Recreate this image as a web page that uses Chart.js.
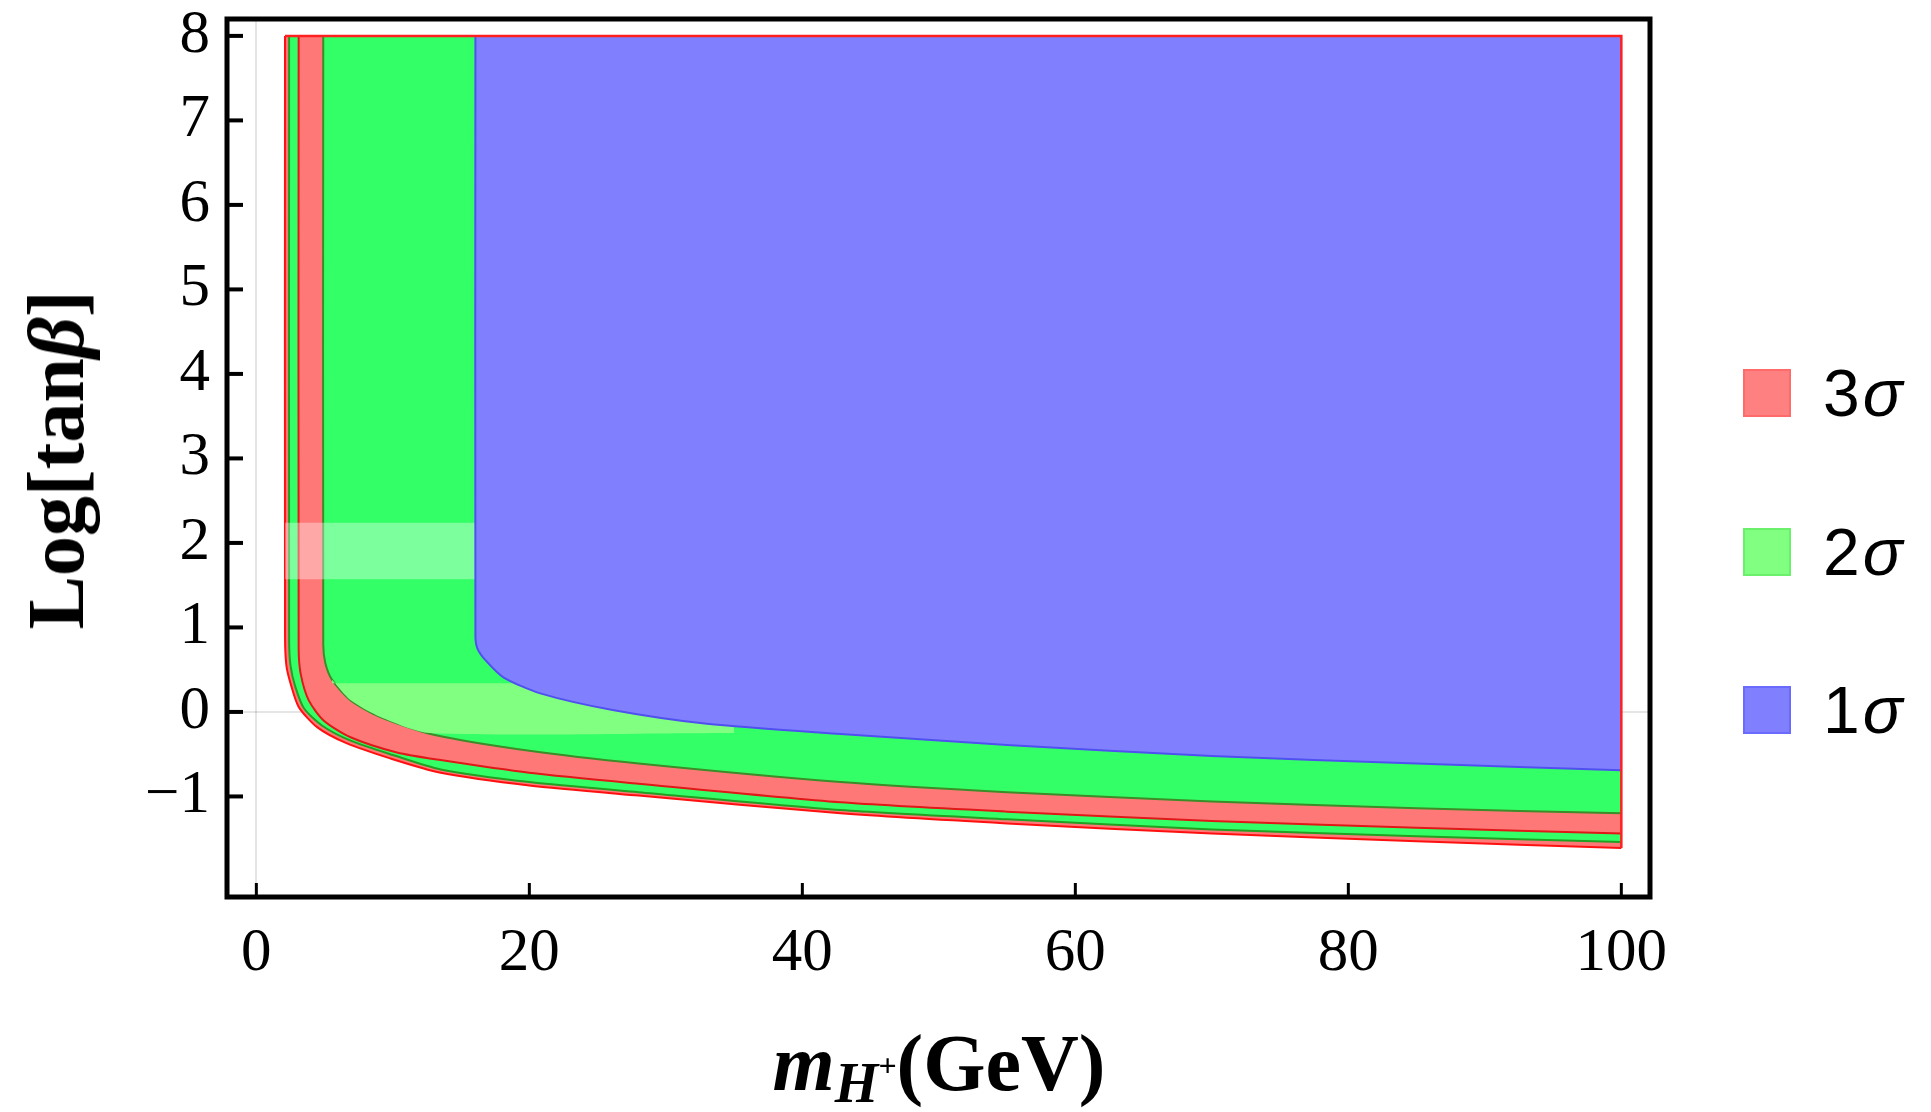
<!DOCTYPE html>
<html>
<head>
<meta charset="utf-8">
<script src="https://cdn.jsdelivr.net/npm/chart.js@4.4.1/dist/chart.umd.min.js"></script>
<style>
  html, body { margin: 0; padding: 0; background: #fff; }
  #wrap { position: relative; width: 1931px; height: 1112px; overflow: hidden; }
  #my-chart { position: absolute; left: 0; top: 0; }
  .axis-title {
    position: absolute;
    font-family: "Liberation Serif", "Times New Roman", serif;
    font-weight: bold;
    font-size: 80px;
    line-height: 1;
    white-space: nowrap;
    color: #000;
  }
  #ytitle { left: 56px; top: 460px; transform: translate(-50%, -50%) rotate(-90deg); }
  #xtitle { left: 939px; top: 1023px; transform: translateX(-50%); }
  #xtitle .sub { font-size: 56px; position: relative; top: 12px; }
  #xtitle .sup { font-size: 32px; position: relative; top: -26px; font-style: normal; }
  .legend-row {
    position: absolute;
    left: 1743px;
    height: 64px;
    display: flex;
    align-items: center;
    font-family: "Liberation Sans", Arial, sans-serif;
    font-size: 66px;
    letter-spacing: 3px;
    line-height: 1;
    color: #000;
  }
  .legend-box { width: 44px; height: 44px; border: 2px solid; margin-right: 32px; }
</style>
</head>
<body>
<div id="wrap">
  <canvas id="my-chart" width="1931" height="1112"></canvas>
  <div id="ytitle" class="axis-title">Log[tan<i>β</i>]</div>
  <div id="xtitle" class="axis-title"><i>m</i><span class="sub"><i>H</i><span class="sup">+</span></span>(GeV)</div>
</div>
<script>
// tick labels
const xTickValues = [0, 20, 40, 60, 80, 100];
const yTickValues = [-1, 0, 1, 2, 3, 4, 5, 6, 7, 8];

// region boundaries (mH+, Log[tan beta])
const sigma3OuterX = [2.1, 2.1, 2.2, 2.5, 3.1, 4.45, 6.6, 9.8, 13.5, 20, 28, 42.8, 55, 70, 85, 100];
const sigma3OuterY = [8, 0.9, 0.55, 0.34, 0.06, -0.18, -0.37, -0.55, -0.72, -0.87, -0.99, -1.2, -1.32, -1.44, -1.53, -1.61];

const sigma2ThinX = [2.4, 2.4, 2.5, 2.85, 3.5, 4.8, 6.9, 10, 13.5, 20, 28, 42.8, 55, 70, 85, 100];
const sigma2ThinY = [8, 0.85, 0.55, 0.3, 0.04, -0.16, -0.34, -0.51, -0.68, -0.83, -0.95, -1.16, -1.27, -1.39, -1.47, -1.54];

const sigma3BandX = [3.1, 3.1, 3.25, 3.83, 4.93, 6.9, 10.3, 13.5, 20, 28, 42.8, 55, 70, 85, 100];
const sigma3BandY = [8, 0.75, 0.45, 0.14, -0.1, -0.3, -0.48, -0.57, -0.72, -0.85, -1.07, -1.18, -1.29, -1.37, -1.44];

const sigma2MainX = [4.9, 4.9, 5.05, 5.55, 6.89, 9.08, 13, 20, 28, 42.8, 55, 70, 85, 100];
const sigma2MainY = [8, 0.8, 0.58, 0.38, 0.14, -0.06, -0.27, -0.46, -0.61, -0.83, -0.95, -1.06, -1.14, -1.2];

const sigma1X = [16.05, 16.05, 16.2, 16.8, 18.1, 20.8, 26.2, 33, 42.8, 55, 70, 85, 100];
const sigma1Y = [8, 0.9, 0.75, 0.61, 0.41, 0.22, 0.02, -0.14, -0.26, -0.39, -0.52, -0.61, -0.69];

// top and right edge of the allowed region
const edgeX = [2.1, 100, 100];
const edgeY = [8, 8, -1.61];

// light rendering bands seen in the picture
const band1X = [2.1, 16.05];
const band1Y = [2.24, 2.24];
const band1Bottom = 1.57;
const band2TopX = [5.55, 35];
const band2TopY = [0.34, 0.34];
const band2BottomX = [5.55, 6.89, 9.08, 12.7, 35];
const band2BottomY = [0.38, 0.14, -0.06, -0.25, -0.25];

// legend
const legendLevels = [3, 2, 1];
const legendFill = ["#ff8080", "#80ff80", "#8080ff"];
const legendBorder = ["#ff6a6a", "#6af06a", "#6a6aff"];

function toPoints(xs, ys) {
  return xs.map((x, i) => ({ x: x, y: ys[i] }));
}

function region(xs, ys, fillColor, lineColor, order) {
  return {
    data: toPoints(xs, ys),
    fill: { value: 8 },
    backgroundColor: fillColor,
    borderColor: lineColor,
    borderWidth: 2,
    order: order,
  };
}

const frameAndTicks = {
  id: "frameAndTicks",
  afterDraw(chart) {
    const { ctx, chartArea, scales } = chart;
    ctx.save();
    ctx.strokeStyle = "#000";
    ctx.lineWidth = 3;
    xTickValues.forEach((v) => {
      const px = scales.x.getPixelForValue(v);
      ctx.beginPath();
      ctx.moveTo(px, chartArea.bottom);
      ctx.lineTo(px, chartArea.bottom - 14);
      ctx.stroke();
    });
    ctx.lineWidth = 4;
    yTickValues.forEach((v) => {
      const py = scales.y.getPixelForValue(v);
      ctx.beginPath();
      ctx.moveTo(chartArea.left, py);
      ctx.lineTo(chartArea.left + 16, py);
      ctx.stroke();
    });
    ctx.lineWidth = 5;
    ctx.strokeRect(chartArea.left, chartArea.top, chartArea.right - chartArea.left, chartArea.bottom - chartArea.top);
    ctx.restore();
  },
};

function zeroGrid(c) {
  return c.tick && c.tick.value === 0 ? "rgba(0,0,0,0.1)" : "rgba(0,0,0,0)";
}

function printTheChart() {
  const ctx = document.getElementById("my-chart").getContext("2d");
  new Chart(ctx, {
    type: "line",
    data: {
      datasets: [
        region(sigma3OuterX, sigma3OuterY, "#ff7878", "#ff1010", 9),
        region(sigma2ThinX, sigma2ThinY, "#33ff66", "#22a022", 8),
        region(sigma3BandX, sigma3BandY, "#ff7878", "#e01818", 7),
        region(sigma2MainX, sigma2MainY, "#33ff66", "#3c8c28", 6),
        {
          data: toPoints(band1X, band1Y),
          fill: { value: band1Bottom },
          backgroundColor: "rgba(255,255,255,0.36)",
          borderWidth: 0,
          borderColor: "rgba(0,0,0,0)",
          tension: 0,
          order: 5,
        },
        {
          data: toPoints(band2TopX, band2TopY),
          fill: "+1",
          backgroundColor: "#80ff80",
          borderWidth: 0,
          borderColor: "rgba(0,0,0,0)",
          tension: 0,
          order: 5,
        },
        {
          data: toPoints(band2BottomX, band2BottomY),
          fill: false,
          borderWidth: 0,
          borderColor: "rgba(0,0,0,0)",
          order: 5,
        },
        region(sigma1X, sigma1Y, "#8080ff", "#5050f0", 2),
        {
          data: toPoints(edgeX, edgeY),
          fill: false,
          borderColor: "#ff2020",
          borderWidth: 2.5,
          tension: 0,
          order: 1,
        },
      ],
    },
    options: {
      responsive: false,
      devicePixelRatio: 1,
      animation: false,
      elements: { point: { radius: 0 }, line: { tension: 0.25 } },
      layout: { autoPadding: false, padding: { top: 19, right: 281, bottom: 0, left: 0 } },
      plugins: { legend: { display: false }, tooltip: { enabled: false } },
      scales: {
        x: {
          type: "linear",
          min: -2.15,
          max: 102.1,
          z: 1,
          afterBuildTicks: (s) => { s.ticks = xTickValues.map((v) => ({ value: v })); },
          afterFit: (s) => {
            s.height = 215;
            s.paddingLeft = 0;
            s.paddingRight = 0;
          },
          grid: { drawTicks: false, lineWidth: 2, color: zeroGrid },
          border: { display: false },
          ticks: {
            autoSkip: false,
            maxRotation: 0,
            color: "#000",
            padding: 20,
            font: { family: "Liberation Serif", size: 61 },
          },
        },
        y: {
          type: "linear",
          min: -2.19,
          max: 8.2,
          z: 1,
          afterBuildTicks: (s) => { s.ticks = yTickValues.map((v) => ({ value: v })); },
          afterFit: (s) => {
            s.width = 227;
            s.paddingTop = 0;
            s.paddingBottom = 0;
          },
          grid: { drawTicks: false, lineWidth: 2, color: zeroGrid },
          border: { display: false },
          ticks: {
            autoSkip: false,
            color: "#000",
            padding: 17,
            font: { family: "Liberation Serif", size: 61 },
            callback: (v) => (v < 0 ? "\u2212" + Math.abs(v) : String(v)),
          },
        },
      },
    },
    plugins: [frameAndTicks],
  });
}

function buildLegend() {
  const wrap = document.getElementById("wrap");
  legendLevels.forEach((level, i) => {
    const row = document.createElement("div");
    row.className = "legend-row";
    row.style.top = (393 + i * 158.5 - 32) + "px";
    const box = document.createElement("div");
    box.className = "legend-box";
    box.style.background = legendFill[i];
    box.style.borderColor = legendBorder[i];
    const label = document.createElement("span");
    label.innerHTML = level + "<i>σ</i>";
    row.appendChild(box);
    row.appendChild(label);
    wrap.appendChild(row);
  });
}

printTheChart();
buildLegend();
</script>
</body>
</html>
